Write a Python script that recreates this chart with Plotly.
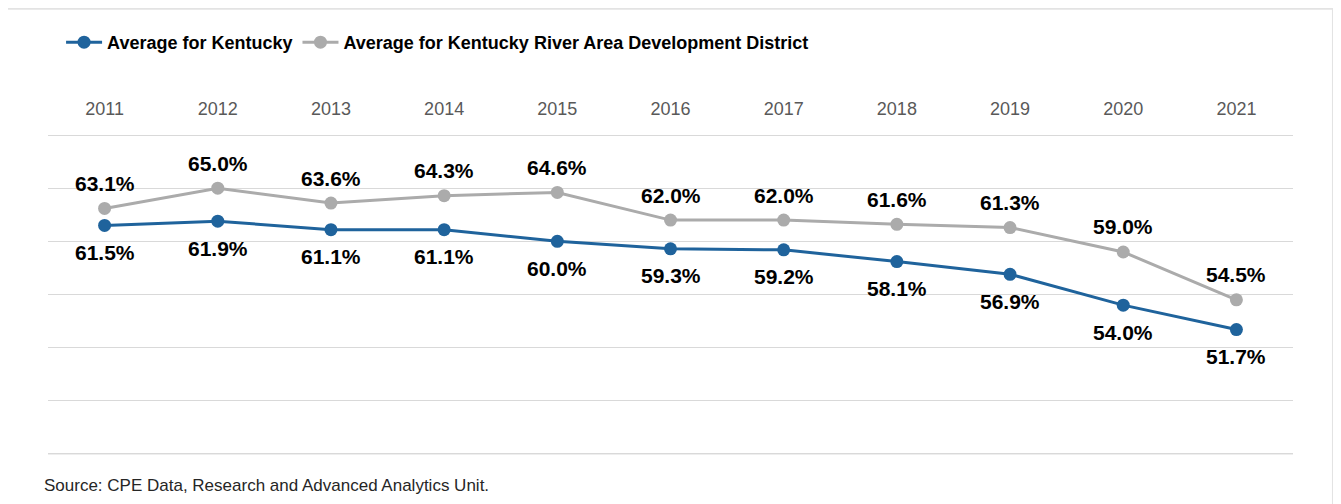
import plotly.graph_objects as go

years = ["2011", "2012", "2013", "2014", "2015", "2016", "2017", "2018", "2019", "2020", "2021"]
kentucky = [61.5, 61.9, 61.1, 61.1, 60.0, 59.3, 59.2, 58.1, 56.9, 54.0, 51.7]
river_add = [63.1, 65.0, 63.6, 64.3, 64.6, 62.0, 62.0, 61.6, 61.3, 59.0, 54.5]

blue = "#1F639C"
grey = "#ABABAB"
sans = "Liberation Sans, Arial, sans-serif"

fig = go.Figure()
fig.add_trace(go.Scatter(x=years, y=kentucky, mode="lines+markers",
                         name="Average for Kentucky",
                         line=dict(color=blue, width=3),
                         marker=dict(color=blue, size=13)))
fig.add_trace(go.Scatter(x=years, y=river_add, mode="lines+markers",
                         name="Average for Kentucky River Area Development District",
                         line=dict(color=grey, width=3),
                         marker=dict(color=grey, size=13)))

# data labels: grey series above, blue series below (x given as category index)
for i, v in enumerate(river_add):
    fig.add_annotation(x=i, y=v, text=f"{v:.1f}%", showarrow=False, yshift=25,
                       font=dict(family=sans, size=21, color="black", weight="bold"))
for i, v in enumerate(kentucky):
    fig.add_annotation(x=i, y=v, text=f"{v:.1f}%", showarrow=False, yshift=-27,
                       font=dict(family=sans, size=21, color="black", weight="bold"))

fig.add_annotation(xref="paper", yref="paper", x=-0.0045, y=-0.094, xanchor="left", yanchor="middle",
                   text="Source: CPE Data, Research and Advanced Analytics Unit.", showarrow=False,
                   font=dict(family=sans, size=17, color="#262626"))

# outer frame
fig.add_shape(type="rect", xref="paper", yref="paper", x0=-0.0345, x1=1.0321, y0=-0.3, y1=1.39,
              line=dict(color="#E3E3E3", width=2), fillcolor="rgba(0,0,0,0)", layer="below")
# bottom rule (40%)
fig.add_shape(type="line", xref="paper", yref="y", x0=0, x1=1, y0=40, y1=40,
              line=dict(color="#D9D9D9", width=1), layer="below")

fig.update_xaxes(type="category", side="top", showgrid=False, ticks="", showline=False,
                 ticklabelstandoff=14, automargin=False,
                 tickfont=dict(family=sans, size=18, color="#595959"), range=[-0.5, 10.5])
# range padded a little so the 40% and 70% rules are drawn
fig.update_yaxes(range=[39.9, 70.1], tickvals=[40, 45, 50, 55, 60, 65, 70], showticklabels=False,
                 gridcolor="#D9D9D9", gridwidth=1, zeroline=False, showline=False, automargin=False)

# page body has an 8px margin, so the figure is a little smaller than the window
fig.update_layout(
    width=1333, height=496,
    margin=dict(l=40, r=48, t=126, b=49, autoexpand=False),
    paper_bgcolor="white", plot_bgcolor="white",
    showlegend=True,
    legend=dict(orientation="h", x=0.0105, y=1.285, xanchor="left", yanchor="middle",
                itemwidth=36,
                font=dict(family=sans, size=18, color="black", weight="bold"),
                bgcolor="rgba(0,0,0,0)"),
)

fig.write_html("out.html")
